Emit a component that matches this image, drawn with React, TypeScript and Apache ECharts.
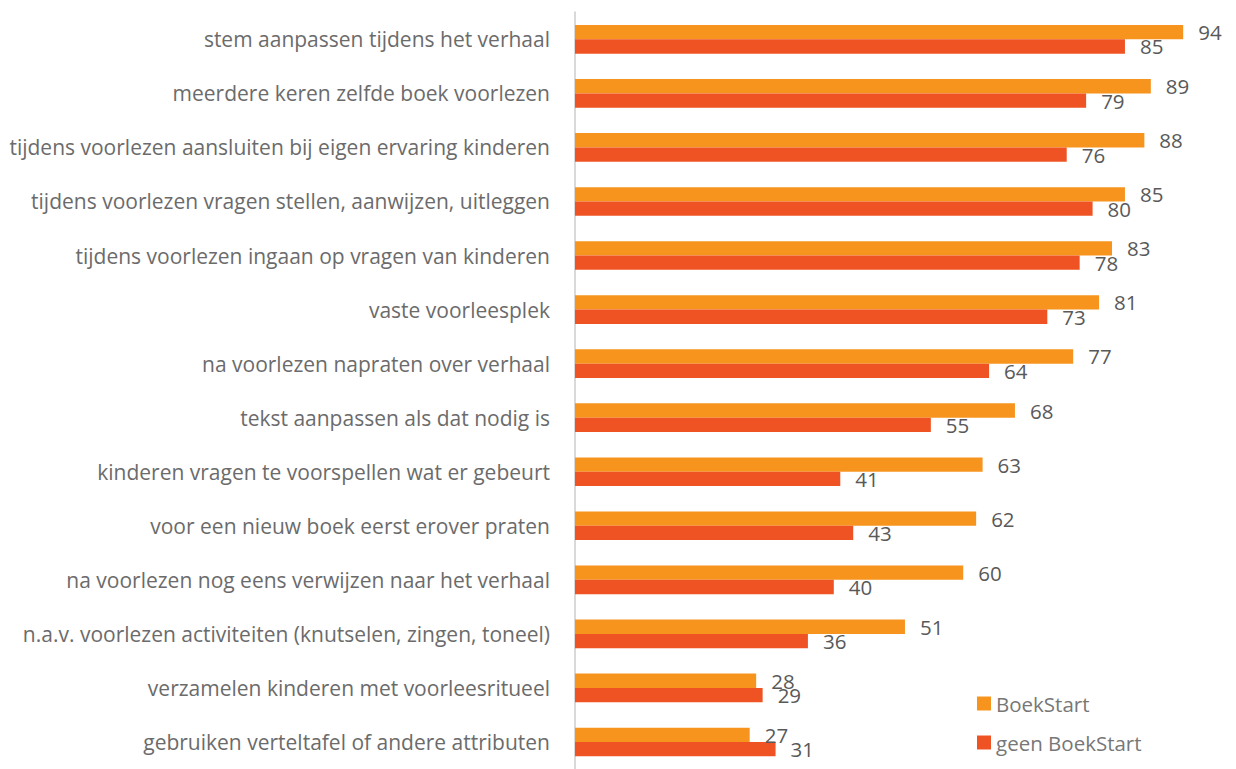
import React, { useEffect, useRef } from "react";
import * as echarts from "echarts";

const categories = [
  "stem aanpassen tijdens het verhaal",
  "meerdere keren zelfde boek voorlezen",
  "tijdens voorlezen aansluiten bij eigen ervaring kinderen",
  "tijdens voorlezen vragen stellen, aanwijzen, uitleggen",
  "tijdens voorlezen ingaan op vragen van kinderen",
  "vaste voorleesplek",
  "na voorlezen napraten over verhaal",
  "tekst aanpassen als dat nodig is",
  "kinderen vragen te voorspellen wat er gebeurt",
  "voor een nieuw boek eerst erover praten",
  "na voorlezen nog eens verwijzen naar het verhaal",
  "n.a.v. voorlezen activiteiten (knutselen, zingen, toneel)",
  "verzamelen kinderen met voorleesritueel",
  "gebruiken verteltafel of andere attributen",
];
const boekStart = [94, 89, 88, 85, 83, 81, 77, 68, 63, 62, 60, 51, 28, 27];
const geenBoekStart = [85, 79, 76, 80, 78, 73, 64, 55, 41, 43, 40, 36, 29, 31];
const seriesNames = ["BoekStart", "geen BoekStart"];

const FONT = "'Open Sans', 'Noto Sans', sans-serif";

export default function App() {
  const ref = useRef<HTMLDivElement>(null);
  useEffect(() => {
    if (!ref.current) return;
    const chart = echarts.init(ref.current, undefined, { renderer: "svg" });
    const labelCfg = {
      show: true,
      position: "right" as const,
      distance: 15,
      color: "#595959",
      fontSize: 20.5,
      fontFamily: FONT,
    };
    chart.setOption({
      animation: false,
      backgroundColor: "#ffffff",
      grid: { left: 575, right: 14, top: 12.3, height: 768 },
      legend: {
        orient: "vertical",
        left: 972,
        top: 688,
        itemWidth: 14,
        itemHeight: 14,
        itemGap: 18,
        icon: "rect",
        textStyle: { color: "#777777", fontSize: 20.5, fontFamily: FONT },
        data: seriesNames,
      },
      xAxis: {
        type: "value",
        min: 0,
        max: 100,
        show: false,
      },
      yAxis: {
        type: "category",
        inverse: true,
        data: categories,
        axisLine: { show: true, lineStyle: { color: "#d9d9d9", width: 2 } },
        axisTick: { show: false },
        axisLabel: {
          margin: 25,
          color: "#6b6b6b",
          fontSize: 21,
          fontFamily: FONT,
        },
        splitLine: { show: false },
      },
      series: [
        {
          name: seriesNames[0],
          type: "bar",
          data: boekStart,
          itemStyle: { color: "#F7941E" },
          barGap: "0%",
          barCategoryGap: "47%",
          label: labelCfg,
        },
        {
          name: seriesNames[1],
          type: "bar",
          data: geenBoekStart,
          itemStyle: { color: "#EF5323" },
          label: labelCfg,
        },
      ],
    });
    return () => chart.dispose();
  }, []);
  return (
    <div
      ref={ref}
      style={{ position: "fixed", left: 0, top: 0, width: 1236, height: 769 }}
    />
  );
}
